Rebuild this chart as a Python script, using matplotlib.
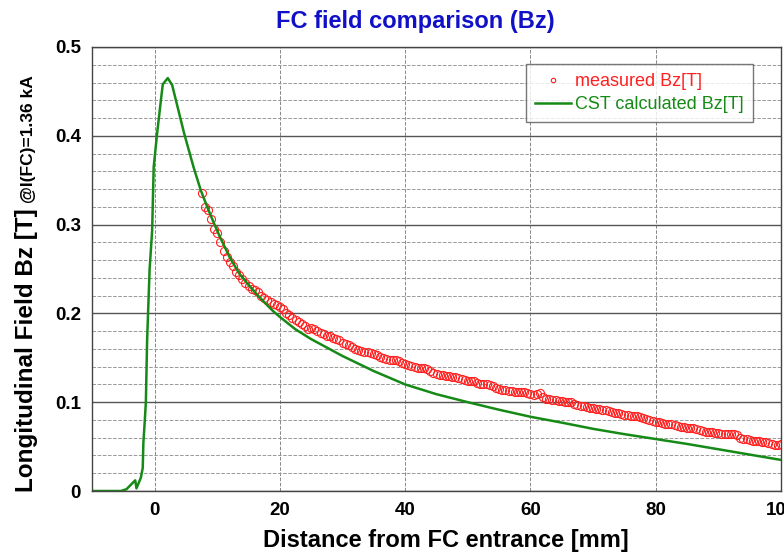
import numpy as np
import matplotlib
matplotlib.use("Agg")
import matplotlib.pyplot as plt
from matplotlib.ticker import MultipleLocator

plt.rcParams['font.family'] = ['Liberation Sans', 'DejaVu Sans']

# CST calculation (green line)
cstX = [-10, -5.4, -4.5, -3.8, -3.1, -2.9, -2.2, -1.9, -1.8, -1.6, -1.4, -1.2, -0.8,
        -0.4, -0.15, 0.4, 1.0, 1.3, 2.1, 2.8, 4.7, 6.2, 7.35, 8.5, 9.5, 10.5, 12,
        13.5, 15, 16.5, 18, 19, 20, 22.5, 25, 30, 35, 40, 45, 50, 55, 60, 65, 70,
        75, 80, 85, 90, 95, 100]
cstY = [0, 0, 0.002, 0.007, 0.012, 0.003, 0.015, 0.026, 0.054, 0.076, 0.10, 0.17, 0.25,
        0.293, 0.365, 0.403, 0.44, 0.458, 0.465, 0.457, 0.403, 0.365, 0.339, 0.318,
        0.301, 0.285, 0.263, 0.245, 0.232, 0.220, 0.209, 0.202, 0.196, 0.182, 0.171,
        0.152, 0.135, 0.120, 0.109, 0.100, 0.0915, 0.0836, 0.077, 0.070, 0.064,
        0.0585, 0.053, 0.047, 0.041, 0.035]

# measured points, every 0.5 mm from 7.5 to 100 mm
measX = np.arange(7.5, 100.01, 0.5)
measY = [0.336, 0.320, 0.316, 0.306, 0.295, 0.290, 0.280, 0.270, 0.264, 0.258,
         0.253, 0.247, 0.243, 0.239, 0.234, 0.231, 0.228, 0.226, 0.224, 0.220,
         0.217, 0.215, 0.213, 0.211, 0.209, 0.207, 0.205, 0.201, 0.198, 0.195,
         0.193, 0.190, 0.188, 0.186, 0.182, 0.184, 0.182, 0.180, 0.178, 0.177,
         0.175, 0.174, 0.172, 0.171, 0.170, 0.167, 0.166, 0.164, 0.162, 0.160,
         0.159, 0.158, 0.157, 0.156, 0.155, 0.154, 0.153, 0.151, 0.150, 0.149,
         0.148, 0.147, 0.147, 0.146, 0.144, 0.143, 0.142, 0.141, 0.140, 0.139,
         0.139, 0.138, 0.137, 0.135, 0.133, 0.132, 0.131, 0.131, 0.130, 0.129,
         0.128, 0.128, 0.127, 0.126, 0.125, 0.124, 0.124, 0.124, 0.122, 0.121,
         0.121, 0.120, 0.119, 0.118, 0.116, 0.115, 0.114, 0.114, 0.113, 0.113,
         0.112, 0.112, 0.111, 0.111, 0.110, 0.109, 0.108, 0.109, 0.110, 0.106,
         0.104, 0.104, 0.103, 0.102, 0.101, 0.101, 0.100, 0.100, 0.100, 0.098,
         0.097, 0.096, 0.096, 0.095, 0.094, 0.093, 0.092, 0.092, 0.091, 0.091,
         0.090, 0.089, 0.088, 0.088, 0.087, 0.086, 0.0855, 0.085, 0.0845, 0.084,
         0.083, 0.082, 0.081, 0.080, 0.079, 0.078, 0.0775, 0.077, 0.076, 0.0755,
         0.075, 0.074, 0.0735, 0.0725, 0.072, 0.0715, 0.071, 0.0705, 0.070, 0.069,
         0.068, 0.067, 0.0665, 0.066, 0.0655, 0.065, 0.064, 0.064, 0.0638, 0.064,
         0.064, 0.063, 0.060, 0.059, 0.058, 0.057, 0.0568, 0.0565, 0.056, 0.0555,
         0.055, 0.054, 0.053, 0.052, 0.0515, 0.053]

fig = plt.figure(figsize=(7.84, 5.53), dpi=100)
ax = fig.add_axes([92/784, 62/553, 689/784, 444/553])

ax.plot(measX, measY, 'o', ms=5.8, mfc='none', mec='#ff2020', mew=0.8,
        label="measured Bz[T]")
ax.plot(cstX, cstY, '-', color='#168a16', lw=1.8, label="CST calculated Bz[T]")

ax.set_xlim(-10, 100)
ax.set_ylim(0, 0.5)
ax.set_xticks([0, 20, 40, 60, 80, 100])
ax.set_yticks([0, 0.1, 0.2, 0.3, 0.4, 0.5])
ax.set_yticklabels(['0', '0.1', '0.2', '0.3', '0.4', '0.5'])
ax.yaxis.set_minor_locator(MultipleLocator(0.02))
ax.yaxis.grid(True, which='major', color='#555555', ls='-', lw=1.0)
ax.yaxis.grid(True, which='minor', color='#999999', ls='--', lw=0.7)
ax.xaxis.grid(True, which='major', color='#888888', ls='--', lw=0.7)
ax.set_axisbelow(True)
ax.tick_params(which='both', length=0, labelsize=13.5, pad=8)
for lab in ax.get_xticklabels() + ax.get_yticklabels():
    lab.set_fontweight('bold')
for s in ax.spines.values():
    s.set_color('#444444')
    s.set_linewidth(1.0)

ax.set_xlabel("Distance from FC entrance [mm]", fontsize=17, fontweight='bold',
              labelpad=7, x=(446 - 92)/689)
ax.set_title("FC field comparison (Bz)", fontsize=17, fontweight='bold',
             color='#1010c8', pad=14, x=(415 - 92)/689)

leg = ax.legend(loc='upper right', bbox_to_anchor=(0.9595, 0.9617), fontsize=13,
                frameon=True, fancybox=False, markerscale=0.55, handlelength=2.0,
                handletextpad=0.25, borderpad=0.5, labelspacing=0.35,
                borderaxespad=0.0)
leg.get_frame().set_edgecolor('#555555')
leg.get_frame().set_linewidth(1.0)
leg.texts[0].set_color('#ff2020')
leg.texts[1].set_color('#168a16')

# y label in two parts
big = fig.text(33/784, 61/553, "Longitudinal Field Bz [T]", rotation=90,
               rotation_mode='anchor', ha='left', va='baseline', fontsize=17.5,
               fontweight='bold')
fig.canvas.draw()
bb = big.get_window_extent()
fig.text(33/784, (bb.y1 + 5)/553, "@I(FC)=1.36 kA", rotation=90,
         rotation_mode='anchor', ha='left', va='baseline', fontsize=12.5,
         fontweight='bold')

fig.savefig("out.png", dpi=100)
